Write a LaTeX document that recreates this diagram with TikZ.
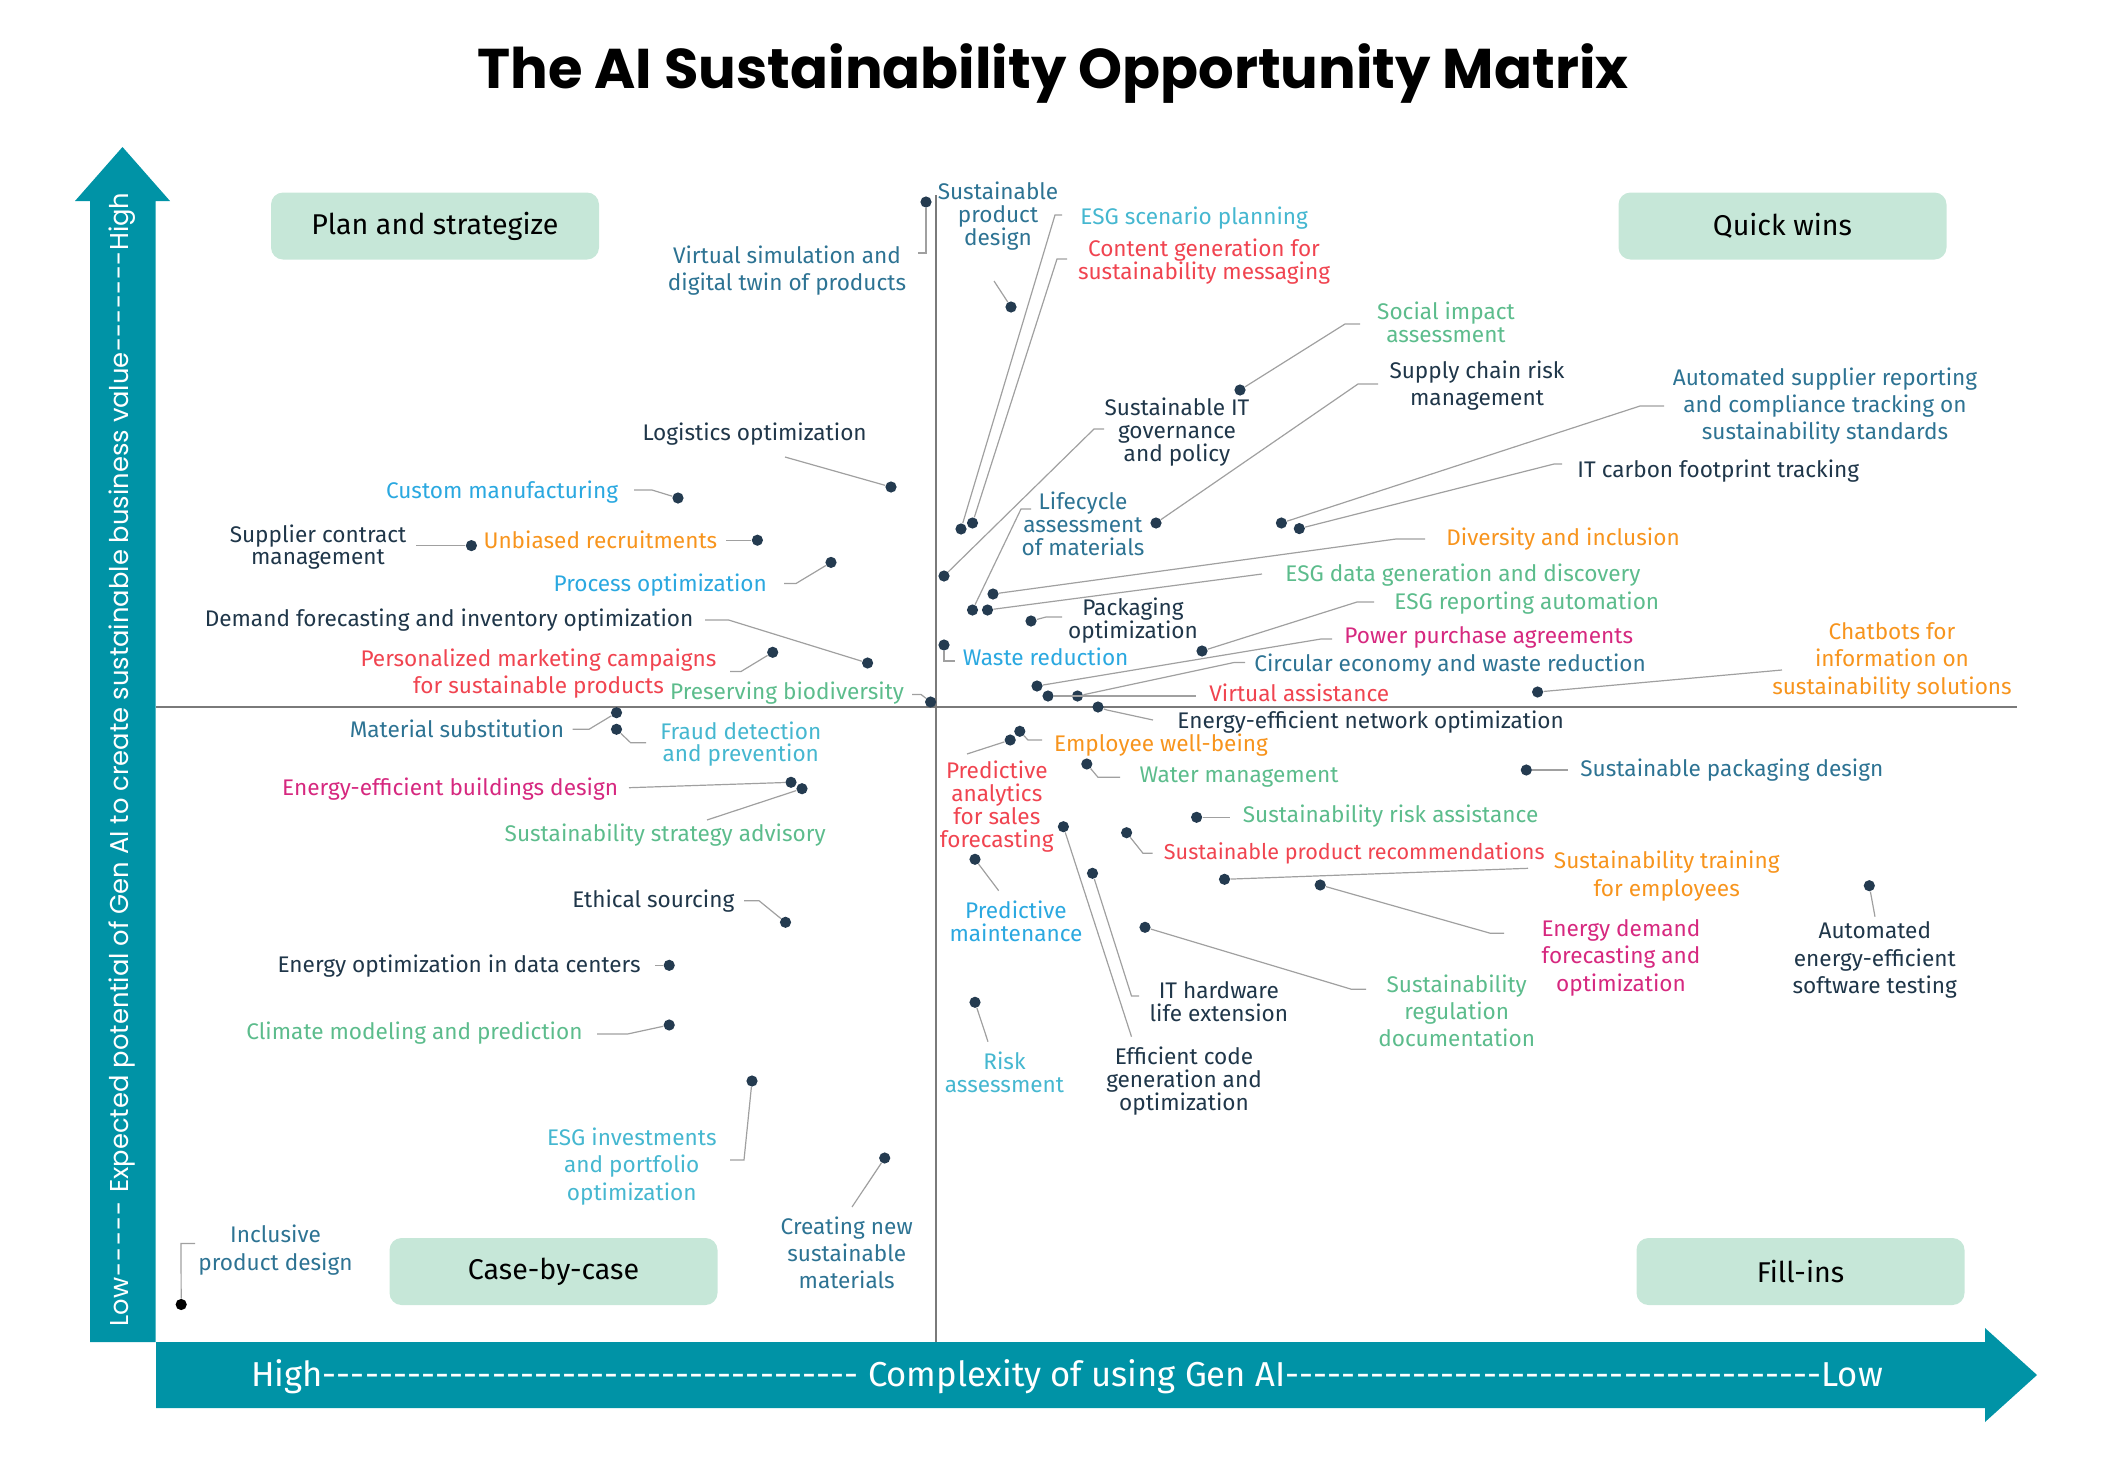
\documentclass[tikz,border=0pt]{standalone}
\usepackage{fontspec}
\setmainfont{Fira Sans}
\newfontfamily\poppins{Poppins}
\definecolor{navy}{HTML}{1F3649}
\definecolor{steel}{HTML}{2D7393}
\definecolor{lblue}{HTML}{2AA8E0}
\definecolor{cyanc}{HTML}{45B7D0}
\definecolor{redc}{HTML}{F04450}
\definecolor{orangec}{HTML}{F7941D}
\definecolor{greenc}{HTML}{5CBC8C}
\definecolor{magc}{HTML}{D6287F}
\definecolor{dotc}{HTML}{243B50}
\definecolor{leadc}{HTML}{A0A0A0}
\definecolor{tealc}{HTML}{0093A6}
\definecolor{boxc}{HTML}{C6E7D8}
\definecolor{quadc}{HTML}{7A7A7A}
\begin{document}
\begin{tikzpicture}[x=0.5pt,y=-0.5pt,
  lead/.style={draw=leadc,line width=0.6pt},
  dotn/.style={circle,fill=dotc,inner sep=0pt,minimum size=5.6pt},
  lb/.style={inner sep=0pt,align=center,font=\fontsize{11.3}{11.4}\selectfont},
  lbl/.style={inner sep=0pt,align=center,font=\fontsize{11.3}{13.7}\selectfont},
  quad/.style={fill=boxc,rounded corners=6pt,minimum width=164pt,minimum height=33.5pt,font=\fontsize{14.3}{17}\selectfont,text=black}]
\useasboundingbox (0,0) rectangle (2106,1478);
% title
\node[font=\poppins\bfseries\fontsize{28}{32}\selectfont] (title) at (1053,74) {The AI Sustainability Opportunity Matrix};
% axes arrows
\fill[tealc] (90,1342) -- (90,201) -- (75,201) -- (122.5,147) -- (170,201) -- (155.5,201) -- (155.5,1342) -- cycle;
\fill[tealc] (156,1342) -- (1985,1342) -- (1985,1328) -- (2037,1375) -- (1985,1422) -- (1985,1408) -- (156,1408) -- cycle;
\node[rotate=90,text=white,inner sep=0pt,font=\poppins\fontsize{12.9}{15}\selectfont] (yax) at (122,759.5)
  {\hbox to 567pt{Low\xleaders\hbox{-}\hskip 0pt plus 1fill\ Expected potential of Gen AI to create sustainable business value\xleaders\hbox{-}\hskip 0pt plus 1.3fill High}};
\node[text=white,inner sep=0pt,font=\fontsize{17.3}{20}\selectfont] (xax) at (1067,1377)
  {\hbox to 816pt{High\xleaders\hbox{-}\hfill\ Complexity of using Gen AI\xleaders\hbox{-}\hfill Low}};
% quadrant lines
\coordinate (vt) at (936,195);
\coordinate (vb) at (936,1342);
\coordinate (hl) at (156,707);
\coordinate (hr) at (2017,707);
\draw[quadc,line width=1.2pt] (vt) -- (vb);
\draw[quadc,line width=1.2pt] (hl) -- (hr);
% quadrant boxes
\node[quad] (qPS) at (435,226) {Plan and strategize};
\node[quad] (qQW) at (1782.5,226) {Quick wins};
\node[quad] (qCC) at (553.5,1271.5) {Case-by-case};
\node[quad] (qFI) at (1800.5,1271.5) {Fill-ins};

% ---------- dots ----------
\node[dotn] (dVS) at (926,202) {};
\node[dotn] (dSPD) at (1011,307) {};
\node[dotn] (dESGsp) at (961,529) {};
\node[dotn] (dCG) at (972.5,523) {};
\node[dotn] (dSIA) at (1240,390) {};
\node[dotn] (dSCR) at (1156,523) {};
\node[dotn] (dSIT) at (944,576) {};
\node[dotn] (dLCA) at (972.5,610) {};
\node[dotn] (dDI) at (993,594) {};
\node[dotn] (dESGd) at (987.5,610) {};
\node[dotn] (dESGr) at (1202,651) {};
\node[dotn] (dPO) at (1031,621) {};
\node[dotn] (dWR) at (944,645) {};
\node[dotn] (dPPA) at (1037,686) {};
\node[dotn] (dCE) at (1077.5,696) {};
\node[dotn] (dVA) at (1048,696) {};
\node[dotn] (dEEN) at (1098,707) {};
\node[dotn] (dCB) at (1537.6,692) {};
\node[dotn] (dASR) at (1281.4,523) {};
\node[dotn] (dITC) at (1299.3,528.6) {};
\node[dotn] (dLO) at (891,487) {};
\node[dotn] (dCM) at (678,498) {};
\node[dotn] (dSCM) at (471.4,545.6) {};
\node[dotn] (dUR) at (757.4,540.2) {};
\node[dotn] (dPrO) at (831,562.4) {};
\node[dotn] (dDF) at (867.6,663) {};
\node[dotn] (dPMC) at (772.7,652.3) {};
\node[dotn] (dPB) at (930.6,702) {};
\node[dotn] (dMS) at (616.5,712.7) {};
\node[dotn] (dFD) at (616.5,729.3) {};
\node[dotn] (dEEB) at (791,782.3) {};
\node[dotn] (dSSA) at (802,788.7) {};
\node[dotn] (dES) at (785.5,922.3) {};
\node[dotn] (dEODC) at (669.2,965.3) {};
\node[dotn] (dCMP) at (669.2,1025) {};
\node[dotn] (dESGi) at (752,1081) {};
\node[dotn] (dCNS) at (884.7,1158) {};
\node[dotn,fill=black] (dIPD) at (181.2,1304.5) {};
\node[dotn] (dEWB) at (1019.8,731.3) {};
\node[dotn] (dPA) at (1010.2,740) {};
\node[dotn] (dWM) at (1086.8,764) {};
\node[dotn] (dSRA) at (1196.6,817.3) {};
\node[dotn] (dSPR) at (1126.6,832.7) {};
\node[dotn] (dST) at (1224.5,879.3) {};
\node[dotn] (dEDF) at (1320.2,885) {};
\node[dotn] (dAEST) at (1869.3,885.7) {};
\node[dotn] (dSPkD) at (1526.3,770) {};
\node[dotn] (dITH) at (1092.5,873.3) {};
\node[dotn] (dECG) at (1063.4,826.7) {};
\node[dotn] (dSRD) at (1145,927.3) {};
\node[dotn] (dPM) at (975,859.3) {};
\node[dotn] (dRA) at (975,1002.3) {};

% ---------- labels ----------
% top-left
\node[lbl,text=steel] (tVS) at (787,270.8) {Virtual simulation and\\digital twin of products};
\node[lb,text=navy] (tLO) at (754.6,434) {Logistics optimization};
\node[lb,text=lblue,anchor=east] (tCM) at (618.4,491.6) {Custom manufacturing};
\node[lb,text=navy] (tSCM) at (318,547) {Supplier contract\\management};
\node[lb,text=orangec,anchor=east] (tUR) at (717.6,540.2) {Unbiased recruitments};
\node[lb,text=lblue,anchor=east] (tPrO) at (767.2,585.4) {Process optimization};
\node[lb,text=navy,anchor=east] (tDF) at (693.7,619.8) {Demand forecasting and inventory optimization};
\node[lbl,text=redc] (tPMC) at (538.5,673.4) {Personalized marketing campaigns\\for sustainable products};
\node[lb,text=greenc,anchor=east] (tPB) at (904.3,693.3) {Preserving biodiversity};
% top-right
\node[lb,text=steel] (tSPD) at (998,215.8) {Sustainable\\product\\design};
\node[lb,text=cyanc,anchor=west] (tESGsp) at (1080,218) {ESG scenario planning};
\node[lb,text=redc] (tCG) at (1204,261.6) {Content generation for\\sustainability messaging};
\node[lb,text=greenc] (tSIA) at (1446,322) {Social impact\\assessment};
\node[lbl,text=navy] (tSCR) at (1477,385.7) {Supply chain risk\\management};
\node[lb,text=navy] (tSIT) at (1177,432) {Sustainable IT\\governance\\and policy};
\node[lbl,text=steel] (tASR) at (1825,406) {Automated supplier reporting\\and compliance tracking on\\sustainability standards};
\node[lb,text=navy,anchor=west] (tITC) at (1577,471) {IT carbon footprint tracking};
\node[lb,text=steel] (tLCA) at (1083,524) {Lifecycle\\assessment\\of materials};
\node[lb,text=orangec,anchor=west] (tDI) at (1446,539) {Diversity and inclusion};
\node[lb,text=greenc,anchor=west] (tESGd) at (1285,575) {ESG data generation and discovery};
\node[lb,text=greenc,anchor=west] (tESGr) at (1394,603) {ESG reporting automation};
\node[lb,text=navy] (tPO) at (1133,620.3) {Packaging\\optimization};
\node[lb,text=lblue,anchor=west] (tWR) at (962.5,657) {Waste reduction};
\node[lb,text=magc,anchor=west] (tPPA) at (1344,637) {Power purchase agreements};
\node[lb,text=steel,anchor=west] (tCE) at (1254,665) {Circular economy and waste reduction};
\node[lb,text=redc,anchor=west] (tVA) at (1209,693) {Virtual assistance};
\node[lbl,text=orangec] (tCB) at (1892,660.8) {Chatbots for\\information on\\sustainability solutions};
\node[lb,text=navy,anchor=west] (tEEN) at (1177,722.5) {Energy-efficient network optimization};
% bottom-left
\node[lb,text=steel,anchor=east] (tMS) at (564.5,729.3) {Material substitution};
\node[lb,text=cyanc] (tFD) at (740.8,744) {Fraud detection\\and prevention};
\node[lb,text=magc,anchor=east] (tEEB) at (618.4,789) {Energy-efficient buildings design};
\node[lb,text=greenc] (tSSA) at (665.2,835) {Sustainability strategy advisory};
\node[lb,text=navy,anchor=east] (tES) at (734.7,900.7) {Ethical sourcing};
\node[lb,text=navy,anchor=east] (tEODC) at (641,966) {Energy optimization in data centers};
\node[lb,text=greenc,anchor=east] (tCMP) at (582.9,1033.3) {Climate modeling and prediction};
\node[lbl,text=cyanc] (tESGi) at (631.8,1166.4) {ESG investments\\and portfolio\\optimization};
\node[lbl,text=steel] (tCNS) at (846.7,1252.8) {Creating new\\sustainable\\materials};
\node[lbl,text=steel] (tIPD) at (275.5,1250) {Inclusive\\product design};
% bottom-right
\node[lb,text=orangec,anchor=west] (tEWB) at (1053.8,745) {Employee well-being};
\node[lb,text=redc] (tPA) at (996.8,806.6) {Predictive\\analytics\\for sales\\forecasting};
\node[lb,text=greenc,anchor=west] (tWM) at (1139.2,777.3) {Water management};
\node[lb,text=steel,anchor=west] (tSPkD) at (1580,770) {Sustainable packaging design};
\node[lb,text=greenc,anchor=west] (tSRA) at (1242.5,816) {Sustainability risk assistance};
\node[lb,text=redc,anchor=west,font=\fontsize{10.8}{11.4}\selectfont] (tSPR) at (1163.5,853.3) {Sustainable product recommendations};
\node[lbl,text=orangec] (tST) at (1666.7,876) {Sustainability training\\for employees};
\node[lb,text=lblue] (tPM) at (1016,921.4) {Predictive\\maintenance};
\node[lbl,text=magc] (tEDF) at (1621,957.9) {Energy demand\\forecasting and\\optimization};
\node[lbl,text=navy] (tAEST) at (1874.8,960.2) {Automated\\energy-efficient\\software testing};
\node[lb,text=navy] (tITH) at (1218.8,1001.7) {IT hardware\\life extension};
\node[lbl,text=greenc] (tSRD) at (1456.7,1010.8) {Sustainability\\regulation\\documentation};
\node[lb,text=navy] (tECG) at (1184,1080.8) {Efficient code\\generation and\\optimization};
\node[lb,text=cyanc] (tRA) at (1004.5,1072) {Risk\\assessment};

% ---------- leaders ----------
\draw[lead] (dVS) -- (926,253) -- (918,253);
\draw[lead] (dSPD) -- (994,281);
\draw[lead] (dESGsp) -- (1055,215) -- (1062,215);
\draw[lead] (dCG) -- (1057,259) -- (1067,259);
\draw[lead] (dSIA) -- (1345,324) -- (1360,324);
\draw[lead] (dSCR) -- (1358,384) -- (1378,384);
\draw[lead] (dSIT) -- (1094,429) -- (1104,429);
\draw[lead] (dLCA) -- (1021,509) -- (1031,509);
\draw[lead] (dDI) -- (1396,539) -- (1425,539);
\draw[lead] (dESGd) -- (1262,574);
\draw[lead] (dESGr) -- (1357,602) -- (1374,602);
\draw[lead] (dPO) -- (1046,617) -- (1062,617);
\draw[lead] (dWR) -- (944,661) -- (955,661);
\draw[lead] (dPPA) -- (1321,639) -- (1332,639);
\draw[lead] (dCE) -- (1234,662.5) -- (1245,662.5);
\draw[lead] (dVA) -- (1196,696);
\draw[lead] (dEEN) -- (1107,710) -- (1153,720);
\draw[lead] (dCB) -- (1782,670);
\draw[lead] (dASR) -- (1640,406) -- (1664,406);
\draw[lead] (dITC) -- (1554,464) -- (1562,464);
\draw[lead] (dLO) -- (785,457);
\draw[lead] (dCM) -- (652,490) -- (634,490);
\draw[lead] (dSCM) -- (416,545.6);
\draw[lead] (dUR) -- (725.5,540.2);
\draw[lead] (dPrO) -- (796,583.5) -- (784,583.5);
\draw[lead] (dDF) -- (728.6,620) -- (705,620);
\draw[lead] (dPMC) -- (741,671.5) -- (730,671.5);
\draw[lead] (dPB) -- (921,694.4) -- (912,694.4);
\draw[lead] (dMS) -- (589,729.3) -- (572.5,729.3);
\draw[lead] (dFD) -- (630.6,742.7) -- (646,742.7);
\draw[lead] (dEEB) -- (629,787.7);
\draw[lead] (dSSA) -- (707,820);
\draw[lead] (dES) -- (759,900.7) -- (744,900.7);
\draw[lead] (dEODC) -- (655,965.3);
\draw[lead] (dCMP) -- (627.6,1034) -- (597,1034);
\draw[lead] (dESGi) -- (744,1160) -- (730,1160);
\draw[lead] (dCNS) -- (852,1207);
\draw[lead] (dIPD) -- (181,1243.5) -- (195,1243.5);
\draw[lead] (dEWB) -- (1028,740) -- (1042,740);
\draw[lead] (dPA) -- (967,754);
\draw[lead] (dWM) -- (1098,777.3) -- (1120,777.3);
\draw[lead] (dSRA) -- (1230,817.3);
\draw[lead] (dSPR) -- (1143,853.3) -- (1152.6,853.3);
\draw[lead] (dST) -- (1528,868.3);
\draw[lead] (dEDF) -- (1490.5,933.3) -- (1504,933.3);
\draw[lead] (dAEST) -- (1875,916.7);
\draw[lead] (dSPkD) -- (1568,770);
\draw[lead] (dITH) -- (1131.5,996) -- (1139,996);
\draw[lead] (dECG) -- (1131.5,1036.7);
\draw[lead] (dSRD) -- (1351.6,989.3) -- (1366,989.3);
\draw[lead] (dPM) -- (998.7,890.7);
\draw[lead] (dRA) -- (988,1041.7);
\end{tikzpicture}
\end{document}
